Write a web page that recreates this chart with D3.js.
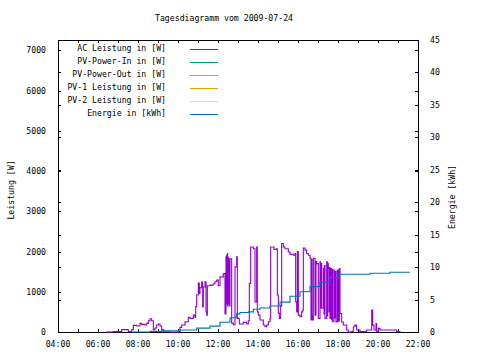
<!DOCTYPE html>
<html><head><meta charset="utf-8">
<script src="https://cdn.jsdelivr.net/npm/d3@7"></script>
<style>
body{margin:0;background:#fff;}
text{font-family:"DejaVu Sans Mono",monospace;font-size:8.2px;fill:#000;}
</style></head>
<body><svg id="c" width="480" height="360"></svg>
<script>
const title = "Tagesdiagramm vom 2009-07-24";
const seriesNames = ["AC Leistung in [W]","PV-Power-In in [W]","PV-Power-Out in [W]","PV-1 Leistung in [W]","PV-2 Leistung in [W]","Energie in [kWh]"];
const seriesColors = ["#9400D3","#009E73","#56B4E9","#E69F00","#F0E442","#0072B2"];
const leftTicks = [0,1000,2000,3000,4000,5000,6000,7000];
const rightTicks = [0,5,10,15,20,25,30,35,40,45];
const xTickLabels = ["04:00","06:00","08:00","10:00","12:00","14:00","16:00","18:00","20:00","22:00"];

const acTimes = ["06:24","06:45","07:06","07:11","07:26","07:31","07:41","07:46","07:56","08:06","08:11","08:21","08:26","08:31","08:36","08:41","08:46","08:51","08:56","09:01","09:06","09:11","09:16","09:36","10:01","10:06","10:11","10:21","10:31","10:36","10:46","10:51","10:53","10:56","11:01","11:04","11:06","11:11","11:14","11:16","11:21","11:24","11:26","11:28","11:36","11:46","11:51","11:56","12:01","12:06","12:16","12:21",
"12:24","12:25","12:26","12:27","12:28","12:29","12:30","12:31","12:32","12:33","12:34","12:35","12:36","12:38",
"12:41","12:46","12:51","12:56","12:58","13:04","13:11","13:16","13:26","13:31","13:34","13:38","13:46","13:51","13:56","13:58","14:01","14:06","14:16","14:21","14:26","14:31","14:36","14:38","14:48","14:54","14:58","15:01","15:04","15:08","15:11","15:16","15:21","15:31","15:36","15:46","15:51","15:53","15:56","15:58","16:01","16:06","16:11","16:14","16:16","16:21","16:26","16:31","16:36","16:39","16:41","16:42","16:44","16:46","16:51","16:54","16:56","17:01","17:06","17:08","17:09","17:11","17:16","17:18","17:19","17:21","17:26","17:28","17:29","17:31","17:33","17:34","17:36","17:39","17:41","17:42","17:44","17:48","17:50","17:51","17:54","17:58","18:01","18:04","18:06","18:11","18:16","18:26","18:31","18:41","18:46","18:51","18:56","19:06","19:26","19:41","19:44","19:48","19:54","19:56","20:01","20:06","20:36","20:56","21:06"];
const acPower = [0,10,5,60,60,10,60,165,150,215,190,175,215,280,330,280,60,100,175,200,150,60,5,0,10,115,175,255,365,340,420,360,630,920,1220,960,1100,1240,620,1120,1250,500,420,1150,1165,1200,1250,1290,1150,1370,1455,450,
1870,700,1900,800,1950,640,1850,700,1800,900,1820,650,1820,1820,
220,180,1620,1870,340,200,200,240,200,280,1210,2115,2070,750,2115,500,420,300,175,130,175,255,340,2115,2050,2070,920,470,340,650,2200,2115,2070,1990,1930,1910,1950,750,500,2000,420,380,500,540,2090,2035,1950,1910,1830,300,1800,400,300,1830,420,1750,1700,340,1745,600,1700,590,1580,450,1650,340,1745,400,1700,1580,500,1600,340,1580,300,1550,255,1540,350,1500,250,1540,270,1580,460,250,175,50,0,10,130,170,50,10,50,545,170,50,210,10,90,50,50,10,0];

const enTimes = ["07:41","08:36","09:11","10:06","10:41","10:56","11:36","12:06","12:36","12:56","13:06","13:31","13:46","14:06","14:36","15:06","15:36","16:06","16:36","17:06","17:36","18:01","18:36","19:36","20:36","21:36"];
const energy = [0,0.1,0.2,0.3,0.3,0.6,0.9,1.5,2.2,2.8,3.0,3.1,3.5,3.7,4.0,4.6,5.5,6.2,7.0,7.7,8.4,8.9,8.9,9.05,9.2,9.2];

const svg = d3.select("#c");
const L=58,R=418,T=40,B=332;
const parse = d3.timeParse("%H:%M");
const x = d3.scaleTime().domain([parse("04:00"),parse("22:00")]).range([L,R]);
const y = d3.scaleLinear().domain([0,7260]).range([B,T]);
const y2 = d3.scaleLinear().domain([0,45]).range([B,T]);

svg.append("rect").attr("x",L+0.5).attr("y",T+0.5).attr("width",R-L).attr("height",B-T)
  .attr("fill","none").attr("stroke","#000").attr("shape-rendering","crispEdges");

const tk = 3;
const g = svg.append("g").attr("stroke","#000").attr("shape-rendering","crispEdges");
leftTicks.forEach(v=>{
  const yy=Math.round(y(v))+0.5;
  g.append("line").attr("x1",L).attr("x2",L+tk).attr("y1",yy).attr("y2",yy);
  g.append("line").attr("x1",R-tk).attr("x2",R).attr("y1",yy).attr("y2",yy);
});
rightTicks.forEach(v=>{
  const yy=Math.round(y2(v))+0.5;
  g.append("line").attr("x1",R-tk).attr("x2",R).attr("y1",yy).attr("y2",yy);
  g.append("line").attr("x1",L).attr("x2",L+tk).attr("y1",yy).attr("y2",yy);
});
x.ticks(d3.timeHour.every(1)).forEach(d=>{
  const xx=Math.round(x(d))+0.5;
  g.append("line").attr("x1",xx).attr("x2",xx).attr("y1",B).attr("y2",B-tk);
  g.append("line").attr("x1",xx).attr("x2",xx).attr("y1",T).attr("y2",T+tk);
});

const fmt = d3.timeFormat("%H:%M");
x.ticks(d3.timeHour.every(2)).forEach((d,i)=>{
  svg.append("text").attr("x",x(d)).attr("y",347).attr("text-anchor","middle").text(xTickLabels[i]||fmt(d));
});
leftTicks.forEach(v=>{
  svg.append("text").attr("x",46).attr("y",y(v)+3).attr("text-anchor","end").text(v);
});
rightTicks.forEach(v=>{
  svg.append("text").attr("x",430).attr("y",y2(v)+3).attr("text-anchor","start").text(v);
});
svg.append("text").attr("x",224).attr("y",21).attr("text-anchor","middle").text(title);
svg.append("text").attr("transform","translate(14,190) rotate(-90)").attr("text-anchor","middle").text("Leistung [W]");
svg.append("text").attr("transform","translate(455,197) rotate(-90)").attr("text-anchor","middle").text("Energie [kWh]");

const acData = acTimes.map((t,i)=>({t:parse(t),v:acPower[i]}));
const enData = enTimes.map((t,i)=>({t:parse(t),v:energy[i]}));
svg.append("path").datum(acData)
  .attr("d",d3.line().x(d=>x(d.t)).y(d=>y(d.v)).curve(d3.curveStepAfter))
  .attr("fill","none").attr("stroke",seriesColors[0]).attr("stroke-width",1.1);
svg.append("path").datum(enData)
  .attr("d",d3.line().x(d=>x(d.t)).y(d=>y2(d.v)).curve(d3.curveStepAfter))
  .attr("fill","none").attr("stroke",seriesColors[5]).attr("stroke-width",1.1);

const legY=[48,61,74,87,100,113];
seriesNames.forEach((n,i)=>{
  svg.append("text").attr("x",166).attr("y",legY[i]+3).attr("text-anchor","end").text(n);
  svg.append("line").attr("x1",190).attr("x2",218).attr("y1",legY[i]+1.5).attr("y2",legY[i]+1.5)
    .attr("stroke",seriesColors[i]).attr("stroke-width",1).attr("shape-rendering","crispEdges");
});
</script></body></html>
